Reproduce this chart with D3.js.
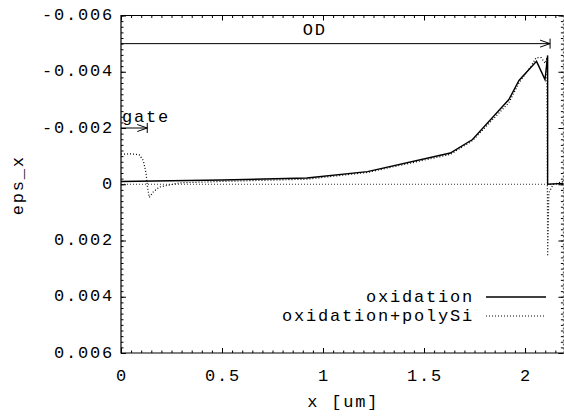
<!DOCTYPE html>
<html>
<head>
<meta charset="utf-8">
<script src="https://cdn.jsdelivr.net/npm/d3@7"></script>
<style>
body { margin: 0; background: #fff; }
text { font-family: "Liberation Mono", "DejaVu Sans Mono", monospace; font-size: 17px; letter-spacing: 1.8px; fill: #000; }
</style>
</head>
<body>
<div id="chart"></div>
<script>
// tick values and labels
var xTicks = [0, 0.5, 1, 1.5, 2];
var xTickLabels = ["0", "0.5", "1", "1.5", "2"];
var yTicks = [-0.006, -0.004, -0.002, 0, 0.002, 0.004, 0.006];
var yTickLabels = ["-0.006", "-0.004", "-0.002", "0", "0.002", "0.004", "0.006"];

// series
var seriesNames = ["oxidation", "oxidation+polySi"];
var oxX = [0, 0.5, 0.92, 1.22, 1.63, 1.74, 1.92, 1.97, 2.057, 2.099, 2.112, 2.112, 2.19];
var oxY = [-0.0001, -0.00015, -0.00022, -0.00045, -0.00111, -0.00159, -0.00301, -0.00369, -0.00437, -0.00372, -0.00458, 0, -0.00003];
var polyX = [0, 0.05, 0.09, 0.11, 0.124, 0.131, 0.14, 0.16, 0.19, 0.29, 0.5, 0.92, 1.22, 1.63, 1.74, 1.92, 1.97, 2.03, 2.055, 2.08, 2.1, 2.108, 2.112, 2.118, 2.14, 2.19];
var polyY = [-0.00107, -0.00108, -0.00105, -0.00085, -0.0004, 0.0001, 0.00047, 0.00027, 0.0001, -0.00005, -0.0001, -0.00018, -0.00042, -0.00106, -0.00155, -0.0029, -0.0036, -0.0042, -0.0045, -0.0045, -0.0043, -0.0045, 0.00256, 0.0003, 0, -0.0001];

// annotations (arrows from x0 to x1 at level y)
var arrowNames = ["OD", "gate"];
var arrowX0 = [0, 0];
var arrowX1 = [2.124, 0.13];
var arrowY = [-0.005, -0.002];

function init() {
    var w = 564, h = 417;
    var left = 121, right = 563.4, top = 15.5, bottom = 353;

    var svg = d3.select("#chart").append("svg")
        .attr("width", w).attr("height", h);

    var x = d3.scaleLinear().domain([0, 2.19]).range([left, right]);
    var y = d3.scaleLinear().domain([-0.006, 0.006]).range([top, bottom]);

    // minor ticks
    var xMinor = d3.range(0, 2.19, 0.05);
    var yMinor = d3.range(-0.006, 0.00601, 0.0002);

    function ticks(axis, tr, vals, size) {
        var g = svg.append("g").attr("transform", tr)
            .call(axis.tickValues(vals).tickSize(size).tickFormat(""));
        g.select(".domain").remove();
        g.selectAll("line").attr("stroke", "#000").attr("stroke-width", 1);
        return g;
    }
    ticks(d3.axisBottom(x), "translate(0," + bottom + ")", xMinor, -2.5);
    ticks(d3.axisBottom(x), "translate(0," + bottom + ")", xTicks, -5);
    ticks(d3.axisTop(x), "translate(0," + top + ")", xMinor, -2.5);
    ticks(d3.axisTop(x), "translate(0," + top + ")", xTicks, -5);
    ticks(d3.axisLeft(y), "translate(" + left + ",0)", yMinor, -2.5);
    ticks(d3.axisLeft(y), "translate(" + left + ",0)", yTicks, -5);
    ticks(d3.axisRight(y), "translate(" + right + ",0)", yMinor, -2.5);
    ticks(d3.axisRight(y), "translate(" + right + ",0)", yTicks, -5);

    // tick labels
    svg.selectAll(".xl").data(xTicks).enter().append("text")
        .attr("x", d => x(d) + 1)
        .attr("y", bottom + 23)
        .attr("text-anchor", "middle")
        .attr("dominant-baseline", "central")
        .text((d, i) => xTickLabels[i]);
    svg.selectAll(".yl").data(yTicks).enter().append("text")
        .attr("x", left - 7)
        .attr("y", d => y(d))
        .attr("text-anchor", "end")
        .attr("dominant-baseline", "central")
        .text((d, i) => yTickLabels[i]);

    // frame
    svg.append("path")
        .attr("d", "M" + right + "," + top + "H" + left + "V" + bottom + "H" + right)
        .attr("fill", "none").attr("stroke", "#000").attr("stroke-width", 1.2);
    svg.append("line")
        .attr("x1", right).attr("x2", right).attr("y1", top).attr("y2", bottom)
        .attr("stroke", "#555").attr("stroke-width", 1).attr("stroke-dasharray", "2,2");

    // zero line
    svg.append("line")
        .attr("x1", left).attr("x2", right).attr("y1", y(0)).attr("y2", y(0))
        .attr("stroke", "#000").attr("stroke-width", 0.8).attr("stroke-dasharray", "1,2");

    // arrows
    arrowNames.forEach(function(name, i) {
        var x0 = x(arrowX0[i]), x1 = x(arrowX1[i]), yy = y(arrowY[i]);
        var g = svg.append("g").attr("fill", "none").attr("stroke", "#000").attr("stroke-width", 1);
        g.append("line").attr("x1", x0).attr("x2", x1).attr("y1", yy).attr("y2", yy);
        g.append("path").attr("d", "M" + (x1 - 10) + "," + (yy - 3.5) + "L" + x1 + "," + yy + "L" + (x1 - 10) + "," + (yy + 3.5));
        g.append("line").attr("x1", x1).attr("x2", x1).attr("y1", yy - 5).attr("y2", yy + 5);
    });
    svg.append("text")
        .attr("x", x(0.9)).attr("y", y(arrowY[0]) - 13)
        .attr("dominant-baseline", "central")
        .text(arrowNames[0]);
    svg.append("text")
        .attr("x", left + 1).attr("y", y(arrowY[1]) - 11)
        .attr("dominant-baseline", "central")
        .text(arrowNames[1]);

    // lines
    var line = d3.line().x(d => x(d[0])).y(d => y(d[1]));
    var oxData = oxX.map((v, i) => [v, oxY[i]]);
    var polyData = polyX.map((v, i) => [v, polyY[i]]);
    var styles = [
        { width: 1.4, dash: null },
        { width: 1.2, dash: "1,2" }
    ];

    [oxData, polyData].forEach(function(data, i) {
        svg.append("path")
            .datum(data)
            .attr("fill", "none")
            .attr("stroke", "#000")
            .attr("stroke-width", styles[i].width)
            .attr("stroke-dasharray", styles[i].dash)
            .attr("d", line);
    });

    // legend
    seriesNames.forEach(function(name, i) {
        var ly = 297 + i * 19;
        svg.append("text")
            .attr("x", 474)
            .attr("y", ly)
            .attr("text-anchor", "end")
            .attr("dominant-baseline", "central")
            .text(name);
        svg.append("line")
            .attr("x1", 486).attr("x2", 546).attr("y1", ly).attr("y2", ly)
            .attr("stroke", "#000")
            .attr("stroke-width", styles[i].width)
            .attr("stroke-dasharray", styles[i].dash);
    });

    // axis titles
    svg.append("text")
        .attr("x", (left + right) / 2 + 1)
        .attr("y", 402)
        .attr("text-anchor", "middle")
        .attr("dominant-baseline", "central")
        .style("white-space", "pre")
        .text("x [um]");
    svg.append("text")
        .attr("transform", "translate(18," + (y(0) + 1) + ") rotate(-90)")
        .attr("text-anchor", "middle")
        .attr("dominant-baseline", "central")
        .text("eps_x");
}

window.onload = init;
</script>
</body>
</html>
